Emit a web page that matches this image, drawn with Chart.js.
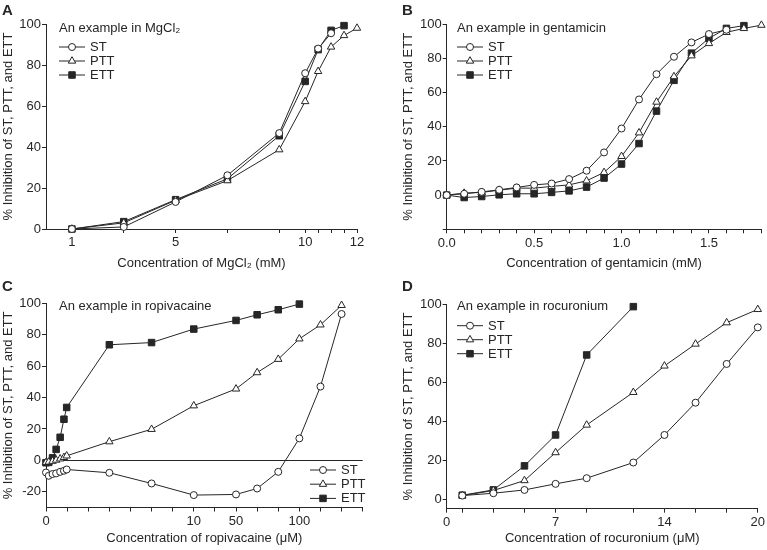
<!DOCTYPE html>
<html>
<head>
<meta charset="utf-8">
<title>Inhibition of ST, PTT and ETT</title>
<script src="https://cdn.jsdelivr.net/npm/chart.js@4.4.1/dist/chart.umd.min.js"></script>
<style>
  html, body { margin: 0; padding: 0; background: #fff; }
  #wrap { position: relative; width: 767px; height: 550px; overflow: hidden; }
  #wrap canvas { position: absolute; }
</style>
</head>
<body>
<div id="wrap">
  <canvas id="chart-a" width="383" height="275" style="left:0;top:0"></canvas>
  <canvas id="chart-b" width="367" height="275" style="left:400px;top:0"></canvas>
  <canvas id="chart-c" width="383" height="275" style="left:0;top:275px"></canvas>
  <canvas id="chart-d" width="367" height="275" style="left:400px;top:275px"></canvas>
</div>
<script>
// ── Data ─────────────────────────────────────────────────────────────────────

// A: MgCl2 (mM)
var aX       = [1, 3, 5, 7, 9, 10, 10.5, 11, 11.5, 12];
var aST      = [0, 1, 13.2, 26.2, 46.8, 76, 88, 95.5];
var aPTT     = [0, 3, 14, 23.6, 38.7, 62.2, 76.9, 88.8, 94.4, 98];
var aETT     = [0, 3.6, 14.3, 24.5, 45.5, 72, 87.5, 96.9, 99.2];
var aTicks   = [1, 3, 5, 7, 9, 10, 10.5, 11, 11.5, 12];
var aLabels  = ['1', '', '5', '', '', '10', '', '', '', '12'];

// B: gentamicin (mM)
var bX       = [0, 0.1, 0.2, 0.3, 0.4, 0.5, 0.6, 0.7, 0.8, 0.9, 1.0, 1.1, 1.2, 1.3, 1.4, 1.5, 1.6, 1.7, 1.8];
var bST      = [0, 0.8, 1.9, 3.1, 4.5, 6, 6.8, 9.4, 14.3, 25, 39, 56, 70.8, 81, 89.4, 94.3, 96.8];
var bPTT     = [0, 1.2, 1.6, 2.9, 4.1, 4.1, 5.1, 6, 8.4, 13.3, 22.7, 36.5, 54.5, 69.4, 81.6, 88.8, 95.3, 97.6, 99.5];
var bETT     = [0, -1.4, -0.8, 0.2, 0.8, 0.8, 1.6, 2.5, 4.7, 10, 18.2, 30.2, 49.2, 67.2, 83.1, 91.8, 97.6, 99.2];
var bTicks   = [0, 0.1, 0.2, 0.3, 0.4, 0.5, 0.6, 0.7, 0.8, 0.9, 1.0, 1.1, 1.2, 1.3, 1.4, 1.5, 1.6, 1.7, 1.8];
var bLabels  = ['0.0', '', '', '', '', '0.5', '', '', '', '', '1.0', '', '', '', '', '1.5', '', '', ''];

// C: ropivacaine (uM) — broken axis, x is the position along the axis
var cX       = [0, 0.13, 0.31, 0.48, 0.67, 0.85, 0.98, 3, 5, 7, 9, 10, 11, 12, 13, 14];
var cST      = [-7.7, -9.8, -8.7, -8.3, -7.3, -6.6, -5.8, -7.9, -14.7, -22.1, -21.7, -17.9, -7.3, 14, 47, 93.2];
var cPTT     = [-1.3, -1, -0.5, 0.2, 1, 1.9, 2.9, 11.9, 19.8, 34.8, 45.5, 55.9, 64.4, 77.4, 86.3, 98.7];
var cETT     = [-1.5, -1.3, 1.6, 7, 14.7, 26.2, 33.7, 73.6, 75, 83.6, 89.1, 92.7, 95.9, 99.5];
var cTicks   = [0, 1, 2, 3, 4, 5, 6, 7, 8, 9, 10, 11, 12, 13, 14, 15];
var cLabels  = ['0', '', '', '', '', '', '', '10', '', '50', '', '', '100', '', '', ''];

// D: rocuronium (uM)
var dX       = [1, 3, 5, 7, 9, 12, 14, 16, 18, 20];
var dST      = [2.2, 3.4, 5.1, 8.2, 11.1, 19.1, 33.2, 49.7, 69.5, 88.2];
var dPTT     = [2.2, 4.8, 9.9, 24.2, 38.3, 55, 68.5, 79.7, 90.6, 97.4];
var dETT     = [2.4, 5.1, 17.4, 33.2, 74.1, 98.8];
var dTicks   = [0, 1, 3, 5, 7, 9, 12, 14, 16, 18, 20];
var dLabels  = ['0', '', '', '', '7', '', '', '14', '', '', '20'];

var yTicksAB = [0, 20, 40, 60, 80, 100];
var yTicksB  = [-20, 0, 20, 40, 60, 80, 100];
var yLabelsB = ['', '0', '20', '40', '60', '80', '100'];
var yTicksC  = [-20, 0, 20, 40, 60, 80, 100];

// ── Styling helpers ──────────────────────────────────────────────────────────

var INK  = '#262626';
var FAMILY = '"Liberation Sans", Arial, sans-serif';
var FONT = { family: FAMILY, size: 13 };
var Y_TITLE = '% Inhibition of ST, PTT, and ETT';

function pts(xs, ys) {
    return ys.map(function (y, i) { return { x: xs[i], y: y }; });
}

function series(label, xs, ys) {
    var style = {
        ST:  { pointStyle: 'circle',   pointRadius: 3.5, fill: '#fff' },
        PTT: { pointStyle: 'triangle', pointRadius: 4.3, fill: '#fff' },
        ETT: { pointStyle: 'rect',     pointRadius: 4.6, fill: INK }
    }[label];
    return {
        label: label,
        data: pts(xs, ys),
        showLine: true,
        borderColor: INK,
        borderWidth: 1,
        tension: 0,
        fill: false,
        clip: false,
        pointStyle: style.pointStyle,
        pointRadius: style.pointRadius,
        pointHoverRadius: style.pointRadius,
        pointBackgroundColor: style.fill,
        pointBorderColor: INK,
        pointBorderWidth: 1
    };
}

function fixedTicks(values) {
    return function (axis) {
        axis.ticks = values.map(function (v) { return { value: v }; });
    };
}

function xScale(min, max, ticks, labels, title, height) {
    return {
        type: 'linear',
        min: min,
        max: max,
        afterBuildTicks: fixedTicks(ticks),
        afterFit: function (axis) { axis.height = height; },
        ticks: {
            autoSkip: false,
            maxRotation: 0,
            padding: 2,
            color: INK,
            font: FONT,
            callback: function (v) { var i = ticks.indexOf(v); return i < 0 ? '' : labels[i]; }
        },
        grid: { drawOnChartArea: false, drawTicks: true, tickLength: 4, color: INK, lineWidth: 1 },
        border: { display: true, color: INK, width: 1 },
        title: { display: true, text: title, color: INK, font: FONT, padding: { top: 0, bottom: 4 } }
    };
}

function yScale(min, max, ticks, labels, width, zeroLine) {
    return {
        type: 'linear',
        min: min,
        max: max,
        afterBuildTicks: fixedTicks(ticks),
        afterFit: function (axis) { axis.width = width; },
        ticks: {
            padding: 1,
            color: INK,
            font: FONT,
            callback: function (v) { var i = ticks.indexOf(v); return i < 0 ? '' : labels[i]; }
        },
        grid: {
            drawOnChartArea: !!zeroLine,
            drawTicks: true,
            tickLength: 4,
            lineWidth: 1,
            tickColor: INK,
            color: function (c) {
                return zeroLine && c.tick && c.tick.value === 0 ? INK : 'rgba(0,0,0,0)';
            }
        },
        border: { display: true, color: INK, width: 1 },
        title: { display: true, text: Y_TITLE, color: INK, font: FONT, padding: { top: 1, bottom: 0 } }
    };
}

// Panel letter, "An example in ..." caption and the line-marker-line key
var panelDecor = {
    id: 'panelDecor',
    afterDraw: function (chart, args, opts) {
        var ctx = chart.ctx;
        ctx.save();
        ctx.textBaseline = 'middle';
        ctx.textAlign = 'left';
        ctx.fillStyle = INK;
        ctx.font = 'bold 15px ' + FAMILY;
        ctx.fillText(opts.letter, opts.letterX, opts.letterY);

        ctx.font = '13px ' + FAMILY;
        ctx.fillText(opts.caption, opts.captionX, opts.captionY);

        chart.data.datasets.forEach(function (ds, i) {
            var y = opts.keyY + i * opts.keyGap;
            ctx.strokeStyle = INK;
            ctx.lineWidth = 1;
            ctx.beginPath();
            ctx.moveTo(opts.keyX, y);
            ctx.lineTo(opts.keyX + 26, y);
            ctx.stroke();
            ctx.fillStyle = ds.pointBackgroundColor;
            ctx.strokeStyle = INK;
            Chart.helpers.drawPoint(ctx, {
                pointStyle: ds.pointStyle,
                radius: ds.pointRadius,
                borderWidth: 1,
                rotation: 0
            }, opts.keyX + 13, y);
            ctx.fillStyle = INK;
            ctx.fillText(ds.label, opts.keyX + 31, y + 0.5);
        });
        ctx.restore();
    }
};

function panel(id, datasets, scales, padding, decor) {
    /* global Chart */
    new Chart(document.getElementById(id), {
        type: 'scatter',
        data: { datasets: datasets },
        options: {
            responsive: false,
            animation: false,
            layout: { padding: padding },
            plugins: {
                legend: { display: false },
                tooltip: { enabled: false },
                panelDecor: decor
            },
            scales: scales
        },
        plugins: [panelDecor]
    });
}

// ── Panels ───────────────────────────────────────────────────────────────────

panel('chart-a',
    [series('ST', aX, aST), series('PTT', aX, aPTT), series('ETT', aX, aETT)],
    {
        x: xScale(0, 12, aTicks, aLabels, 'Concentration of MgCl\u2082 (mM)', 46),
        y: yScale(0, 100, yTicksAB, yTicksAB.map(String), 46, false)
    },
    { left: 0, right: 26, top: 24, bottom: 0 },
    { letter: 'A', letterX: 2, letterY: 11, caption: 'An example in MgCl\u2082', captionX: 59, captionY: 28,
      keyX: 59, keyY: 47, keyGap: 14 }
);

panel('chart-b',
    [series('ST', bX, bST), series('PTT', bX, bPTT), series('ETT', bX, bETT)],
    {
        x: xScale(0, 1.8, bTicks, bLabels, 'Concentration of gentamicin (mM)', 45.7),
        y: yScale(-20, 100, yTicksB, yLabelsB, 46.7, false)
    },
    { left: 0, right: 1, top: 24.3, bottom: 0 },
    { letter: 'B', letterX: 2, letterY: 11, caption: 'An example in gentamicin', captionX: 57, captionY: 28,
      keyX: 57, keyY: 47, keyGap: 14 }
);

panel('chart-c',
    [series('ST', cX, cST), series('PTT', cX, cPTT), series('ETT', cX, cETT)],
    {
        x: xScale(0, 15, cTicks, cLabels, 'Concentration of ropivacaine (\u03bcM)', 42.5),
        y: yScale(-30, 100, yTicksC, yTicksC.map(String), 46, true)
    },
    { left: 0, right: 20.3, top: 28.3, bottom: 0 },
    { letter: 'C', letterX: 2, letterY: 11.7, caption: 'An example in ropivacaine', captionX: 59, captionY: 31.7,
      keyX: 310, keyY: 195, keyGap: 14.2 }
);

panel('chart-d',
    [series('ST', dX, dST), series('PTT', dX, dPTT), series('ETT', dX, dETT)],
    {
        x: xScale(0, 20, dTicks, dLabels, 'Concentration of rocuronium (\u03bcM)', 41.3),
        y: yScale(-4.5, 100, yTicksAB, yTicksAB.map(String), 46.7, false)
    },
    { left: 0, right: 8.3, top: 29.3, bottom: 0 },
    { letter: 'D', letterX: 2, letterY: 11.7, caption: 'An example in rocuronium', captionX: 57, captionY: 31.7,
      keyX: 57, keyY: 50.7, keyGap: 14 }
);
</script>
</body>
</html>
